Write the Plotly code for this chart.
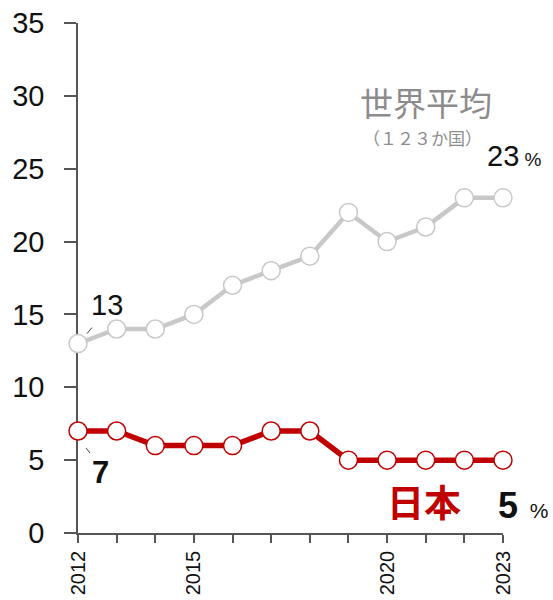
import plotly.graph_objects as go

years = list(range(2012, 2024))
world_avg = [13, 14, 14, 15, 17, 18, 19, 22, 20, 21, 23, 23]
japan = [7, 7, 6, 6, 6, 7, 7, 5, 5, 5, 5, 5]
x_tick_text = {2012: "2012", 2015: "2015", 2020: "2020", 2023: "2023"}
y_ticks = [0, 5, 10, 15, 20, 25, 30, 35]

GRAY = "#c8c8c8"
RED = "#c00000"
NUM_FONT = "Liberation Sans, Arial, sans-serif"
CJK_FONT = "Noto Sans CJK JP, sans-serif"

fig = go.Figure()
fig.add_trace(go.Scatter(
    x=years, y=world_avg, mode="lines+markers",
    line=dict(color=GRAY, width=4.5),
    marker=dict(size=18, color="white", line=dict(color=GRAY, width=1.5)),
    cliponaxis=False, hoverinfo="skip"))
fig.add_trace(go.Scatter(
    x=years, y=japan, mode="lines+markers",
    line=dict(color=RED, width=5.5),
    marker=dict(size=18, color="white", line=dict(color=RED, width=1.5)),
    cliponaxis=False, hoverinfo="skip"))

L, R, T, B = 78, 50, 23, 67
W, H = 553, 600
pw, ph = W - L - R, H - T - B

def px(x):
    return (x - L) / pw

def py(y):
    return (H - B - y) / ph

annotations = [
    dict(x=years[0], y=world_avg[0], xref="x", yref="y", text=str(world_avg[0]),
         showarrow=False, xshift=29, yshift=39, xanchor="center", yanchor="middle",
         font=dict(family=NUM_FONT, size=29, color="#111")),
    dict(x=years[0], y=japan[0], xref="x", yref="y", text="<b>%d</b>" % japan[0],
         showarrow=False, xshift=22, yshift=-41, xanchor="center", yanchor="middle",
         font=dict(family=NUM_FONT, size=31, color="#111")),
    dict(x=years[-1], y=world_avg[-1], xref="x", yref="y",
         text="%d<span style='font-size:19px'> %%</span>" % world_avg[-1],
         showarrow=False, xshift=11, yshift=42, xanchor="center", yanchor="middle",
         font=dict(family=NUM_FONT, size=29, color="#111")),
    dict(x=years[-1], y=japan[-1], xref="x", yref="y",
         text="<b>%d</b><span style='font-size:21px'>  %%</span>" % japan[-1],
         showarrow=False, xshift=20, yshift=-45, xanchor="center", yanchor="middle",
         font=dict(family=NUM_FONT, size=36, color="#111")),
    dict(x=px(426), y=py(102), xref="paper", yref="paper", text="世界平均",
         xanchor="center", yanchor="middle",
         showarrow=False, font=dict(family=CJK_FONT, size=33, color="#8c8c8c")),
    dict(x=px(422), y=py(137), xref="paper", yref="paper", text="（１２３か国）",
         xanchor="center", yanchor="middle",
         showarrow=False, font=dict(family=CJK_FONT, size=17, color="#8c8c8c")),
    dict(x=px(424), y=py(501), xref="paper", yref="paper", text="<b>日本</b>",
         xanchor="center", yanchor="middle",
         showarrow=False, font=dict(family=CJK_FONT, size=37, color=RED)),
]

leader = dict(color="#444", width=1)
shapes = [
    dict(type="line", xref="x", yref="y", xsizemode="pixel", ysizemode="pixel",
         xanchor=years[0], yanchor=world_avg[0], x0=9, x1=14, y0=10, y1=16, line=leader),
    dict(type="line", xref="x", yref="y", xsizemode="pixel", ysizemode="pixel",
         xanchor=years[0], yanchor=japan[0], x0=8, x1=12, y0=-17, y1=-22, line=leader),
    dict(type="line", xref="x", yref="y", xsizemode="pixel", ysizemode="pixel",
         xanchor=years[-1], yanchor=world_avg[-1], x0=1, x1=1, y0=15, y1=20, line=leader),
]

fig.update_layout(
    width=W, height=H,
    margin=dict(l=L, r=R, t=T, b=B, autoexpand=False),
    paper_bgcolor="white", plot_bgcolor="white",
    showlegend=False,
    annotations=annotations, shapes=shapes,
    xaxis=dict(
        range=[years[0], years[-1]], tickmode="array", tickvals=years,
        ticktext=[x_tick_text.get(y, "") for y in years], automargin=False,
        tickangle=-90, ticks="outside", ticklen=8, tickwidth=1.5, tickcolor="#555",
        showline=True, linecolor="#555", linewidth=1.5, showgrid=False, zeroline=False,
        tickfont=dict(family=NUM_FONT, size=20, color="#111"), layer="below traces"),
    yaxis=dict(
        range=[0, 35], tickmode="array", tickvals=y_ticks, automargin=False,
        ticks="outside", ticklen=12, tickwidth=1.5, tickcolor="#555",
        showline=True, linecolor="#555", linewidth=1.5, showgrid=False, zeroline=False,
        ticklabelstandoff=14,
        tickfont=dict(family=NUM_FONT, size=29, color="#111"), layer="below traces"),
)

fig.write_html("out.html")
